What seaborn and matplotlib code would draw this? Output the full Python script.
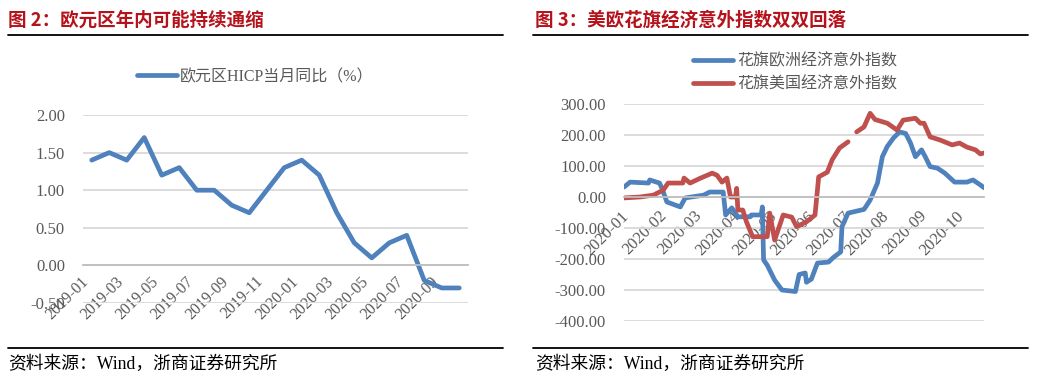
import numpy as np
import pandas as pd
import matplotlib
matplotlib.use('Agg')
import matplotlib.pyplot as plt
from matplotlib.lines import Line2D
from matplotlib.font_manager import FontProperties
import matplotlib.transforms as mtransforms
import seaborn as sns

# ---------------- data ----------------
hicp_months = ['2019-01', '2019-02', '2019-03', '2019-04', '2019-05', '2019-06', '2019-07', '2019-08',
               '2019-09', '2019-10', '2019-11', '2019-12', '2020-01', '2020-02', '2020-03', '2020-04',
               '2020-05', '2020-06', '2020-07', '2020-08', '2020-09', '2020-10']
hicp_values = [1.4, 1.5, 1.4, 1.7, 1.2, 1.3, 1.0, 1.0, 0.8, 0.7, 1.0, 1.3,
               1.4, 1.2, 0.7, 0.3, 0.1, 0.3, 0.4, -0.2, -0.3, -0.3]
left_yticks = [-0.5, 0.0, 0.5, 1.0, 1.5, 2.0]

eu_dates = ['2020-01-01', '2020-01-06', '2020-01-21', '2020-01-22', '2020-01-30', '2020-02-01',
            '2020-02-05', '2020-02-16', '2020-02-20', '2020-03-06', '2020-03-11', '2020-03-22',
            '2020-03-24', '2020-03-29', '2020-04-03', '2020-04-13', '2020-04-14', '2020-04-22',
            '2020-04-23', '2020-04-24', '2020-04-27', '2020-05-03', '2020-05-09', '2020-05-20',
            '2020-05-23', '2020-05-28', '2020-05-29', '2020-06-02', '2020-06-07', '2020-06-16',
            '2020-06-20', '2020-06-26', '2020-06-27', '2020-07-02', '2020-07-15', '2020-07-20',
            '2020-07-26', '2020-07-30', '2020-08-03', '2020-08-08', '2020-08-13', '2020-08-18',
            '2020-08-22', '2020-08-26', '2020-08-31', '2020-09-03', '2020-09-07', '2020-09-13',
            '2020-09-19', '2020-09-27', '2020-10-07', '2020-10-12', '2020-10-18', '2020-10-21']
eu_values = [32, 48, 45, 55, 45, 28,
             -16, -32, -3, 6, 16, 16,
             -58, -35, -64, -64, -58, -58,
             -32, -203, -220, -268, -300, -305,
             -250, -245, -275, -265, -213, -210,
             -195, -177, -96, -52, -40, -10,
             45, 130, 163, 190, 210, 205,
             174, 130, 152, 130, 98, 93,
             77, 48, 48, 55, 39, 30]

us_dates = ['2020-01-01', '2020-01-14', '2020-01-25', '2020-02-02', '2020-02-06', '2020-02-18',
            '2020-02-19', '2020-02-24', '2020-03-03', '2020-03-13', '2020-03-17', '2020-03-21',
            '2020-03-25', '2020-03-28', '2020-04-01', '2020-04-02', '2020-04-03', '2020-04-07',
            '2020-04-10', '2020-04-15', '2020-04-27', '2020-04-29', '2020-05-03', '2020-05-10',
            '2020-05-17', '2020-05-21', '2020-05-29', '2020-06-05', '2020-06-08', '2020-06-15',
            '2020-06-19', '2020-06-25', '2020-07-02', '2020-07-05', '2020-07-09', '2020-07-15',
            '2020-07-20', '2020-07-24', '2020-08-03', '2020-08-11', '2020-08-16', '2020-08-26',
            '2020-08-30', '2020-09-02', '2020-09-07', '2020-09-15', '2020-09-25', '2020-10-01',
            '2020-10-07', '2020-10-14', '2020-10-18', '2020-10-21']
us_values = [-3, 0, 6, 22, 45, 45,
             61, 45, 60, 77, 70, 48,
             61, 0, 0, 28, -42, -42,
             -80, -128, -128, -52, -139, -58,
             -65, -96, -80, -58, 65, 80,
             120, 158, 178, np.nan, 210, 226,
             270, 250, 238, 216, 248, 254,
             238, 238, 194, 184, 168, 174,
             161, 152, 139, 142]
right_yticks = [-400, -300, -200, -100, 0, 100, 200, 300]
right_xticks = ['2020-01-01', '2020-02-01', '2020-03-01', '2020-04-01', '2020-05-01',
                '2020-06-01', '2020-07-01', '2020-08-01', '2020-09-01', '2020-10-01']

left_title = '图 2：欧元区年内可能持续通缩'
right_title = '图 3：美欧花旗经济意外指数双双回落'
left_legend = '欧元区HICP当月同比（%）'
eu_label = '花旗欧洲经济意外指数'
us_label = '花旗美国经济意外指数'
source_text = '资料来源：Wind，浙商证券研究所'

# ---------------- style ----------------
sns.set_theme(style='white')
plt.rcParams['font.family'] = ['Liberation Serif', 'Noto Sans CJK SC', 'DejaVu Sans']
MIX = ['Liberation Serif', 'Noto Sans CJK SC', 'DejaVu Sans']
BLUE = '#4F81BD'
RED = '#C0504D'
GRID = '#D9D9D9'
AXC = '#BFBFBF'
TXT = '#595959'
TITLE_C = '#B5121B'

W, H = 1040, 380
fig = plt.figure(figsize=(W / 100, H / 100), dpi=100)
fig.patch.set_facecolor('white')


def style_axis(ax, yticks, ysize, pad_x):
    for s in ['left', 'top', 'right']:
        ax.spines[s].set_visible(False)
    ax.spines['bottom'].set_position(('data', 0))
    ax.spines['bottom'].set_color(AXC)
    ax.spines['bottom'].set_linewidth(1.3)
    ax.set_yticks(yticks)
    ax.set_ylim(yticks[0], yticks[-1])
    ax.yaxis.grid(True, color=GRID, linewidth=1.3)
    ax.xaxis.grid(False)
    ax.set_axisbelow(True)
    ax.tick_params(axis='y', length=0, pad=13, labelsize=ysize, labelcolor=TXT)
    ax.tick_params(axis='x', direction='out', length=4, width=1.2, color=AXC,
                   pad=pad_x, labelcolor=TXT)
    ax.set_xlabel('')
    ax.set_ylabel('')
    ax.set_facecolor('white')


def shift_labels(ax, dx_px):
    off = mtransforms.ScaledTranslation(dx_px / 100, 0, fig.dpi_scale_trans)
    for lab in ax.get_xticklabels():
        lab.set_transform(lab.get_transform() + off)


# ---------------- left chart ----------------
ax1 = fig.add_axes([83 / W, 1 - 303 / H, 385 / W, 188 / H])
df1 = pd.DataFrame({'pos': np.arange(len(hicp_values)), 'v': hicp_values})
sns.lineplot(data=df1, x='pos', y='v', ax=ax1, color=BLUE, linewidth=3.4)
ax1.set_xlim(-0.5, len(hicp_values) - 0.5)
style_axis(ax1, left_yticks, 12, 6)
ax1.yaxis.set_major_formatter(matplotlib.ticker.FormatStrFormatter('%.2f'))
tick_pos = np.arange(-0.5, len(hicp_values), 2)
ax1.set_xticks(tick_pos)
lab1 = hicp_months[::2] + [''] * (len(tick_pos) - len(hicp_months[::2]))
ax1.set_xticklabels(lab1, rotation=45, ha='right', va='center',
                    rotation_mode='anchor', fontsize=11.5)
shift_labels(ax1, 3)
ax1.legend(handles=[Line2D([], [], color=BLUE, lw=3.4, solid_capstyle='round')],
           labels=[left_legend], loc='center',
           bbox_to_anchor=(255 / W, 1 - 77 / H), bbox_transform=fig.transFigure,
           frameon=False, handlelength=2.5, handletextpad=0.2,
           prop=FontProperties(family=MIX, size=11.5), labelcolor=TXT)

# ---------------- right chart ----------------
ax2 = fig.add_axes([624 / W, 1 - 321 / H, 360 / W, 217 / H])


def seg_frame(dates, values):
    d = pd.DataFrame({'date': pd.to_datetime(dates), 'v': values})
    d['seg'] = d['v'].isna().cumsum()
    return d.dropna()


df_eu = seg_frame(eu_dates, eu_values)
df_us = seg_frame(us_dates, us_values)
sns.lineplot(data=df_eu, x='date', y='v', units='seg', estimator=None, ax=ax2,
             color=BLUE, linewidth=3.4, sort=False)
sns.lineplot(data=df_us, x='date', y='v', units='seg', estimator=None, ax=ax2,
             color=RED, linewidth=3.4, sort=False)
for ln in ax1.get_lines() + ax2.get_lines():
    ln.set_solid_joinstyle('round')
    ln.set_solid_capstyle('round')
ax2.set_xlim(pd.Timestamp('2020-01-01'), pd.Timestamp('2020-10-21'))
style_axis(ax2, right_yticks, 12, 8)
ax2.yaxis.set_major_formatter(matplotlib.ticker.FormatStrFormatter('%.2f'))
xt = pd.to_datetime(right_xticks)
ax2.set_xticks(xt)
ax2.set_xticklabels([d.strftime('%Y-%m') for d in xt], rotation=45, ha='right',
                    va='center', rotation_mode='anchor', fontsize=12)
shift_labels(ax2, 2)
ax2.legend(handles=[Line2D([], [], color=BLUE, lw=3.4, solid_capstyle='round'),
                    Line2D([], [], color=RED, lw=3.4, solid_capstyle='round')],
           labels=[eu_label, us_label], loc='center',
           bbox_to_anchor=(795 / W, 1 - 73 / H), bbox_transform=fig.transFigure,
           frameon=False, handlelength=2.5, handletextpad=0.25, labelspacing=0.45,
           prop=FontProperties(family=MIX, size=11.5), labelcolor=TXT)

# ---------------- frame texts & rules ----------------
for (x0, x1, tx, title) in [(8, 503, 8, left_title), (533, 1028, 535, right_title)]:
    fig.add_artist(Line2D([x0 / W, x1 / W], [1 - 35 / H, 1 - 35 / H],
                          transform=fig.transFigure, color='black', lw=1.3))
    fig.add_artist(Line2D([x0 / W, x1 / W], [1 - 348 / H, 1 - 348 / H],
                          transform=fig.transFigure, color='black', lw=1.3))
    fig.text(tx / W, 1 - 20 / H, title, ha='left', va='center', color=TITLE_C,
             fontsize=13.3, fontweight='bold', family=['Noto Sans CJK SC', 'DejaVu Sans'])
    fig.text(tx / W, 1 - 364 / H, source_text, ha='left', va='center', color='black',
             fontsize=12.8, family=MIX)

fig.savefig('out.png', dpi=100, facecolor='white')
